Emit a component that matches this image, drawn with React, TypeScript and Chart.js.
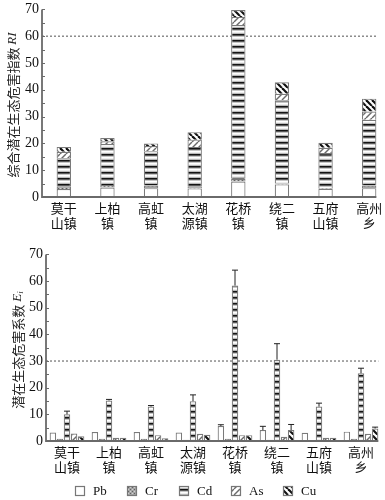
import React, { useEffect, useRef } from 'react';
import { Chart, registerables } from 'chart.js';

Chart.register(...registerables);

// ---------- data ----------
const townLabels: string[][] = [
  ['莫干', '山镇'], ['上柏', '镇'], ['高虹', '镇'], ['太湖', '源镇'],
  ['花桥', '镇'], ['绕二', '镇'], ['五府', '山镇'], ['高州', '乡'],
];
const elementNames = ['Pb', 'Cr', 'Cd', 'As', 'Cu'];

// Top: comprehensive potential ecological risk index RI (stacked by element)
const riPb = [3.0, 3.5, 3.3, 3.2, 5.8, 4.7, 3.1, 3.3];
const riCr = [1.0, 1.0, 1.0, 0.8, 1.0, 0.3, 0.3, 1.0];
const riCd = [10.5, 15.3, 12.8, 14.7, 57.4, 31.1, 13.0, 24.5];
const riAs = [2.4, 1.0, 1.9, 2.7, 3.0, 2.4, 2.0, 3.1];
const riCu = [1.8, 1.2, 1.0, 2.8, 2.6, 4.3, 1.8, 4.8];

// Bottom: single-element potential ecological risk coefficient Ei (mean and error)
const eiPb = [3.2, 3.4, 3.4, 3.2, 5.6, 4.1, 3.1, 3.5];
const eiPbErr = [0, 0, 0, 0, 0.5, 1.4, 0, 0];
const eiCr = [0.8, 0.8, 0.8, 0.5, 0.8, 0.5, 0.3, 0.8];
const eiCrErr = [0, 0, 0, 0, 0, 0, 0, 0];
const eiCd = [10.0, 15.2, 12.9, 14.9, 58.3, 30.5, 12.9, 25.4];
const eiCdErr = [1.2, 0.4, 0.4, 2.4, 5.8, 6.0, 1.3, 1.9];
const eiAs = [2.8, 1.2, 2.2, 2.7, 2.2, 1.6, 1.2, 2.7];
const eiAsErr = [0, 0, 0, 0, 0, 0, 0, 0];
const eiCu = [1.8, 1.2, 1.0, 2.3, 2.2, 4.1, 1.2, 4.7];
const eiCuErr = [0, 0, 0, 0, 0, 2.1, 0, 0.5];

const riRef = 60;
const eiRef = 30;
const yMin = 0;
const yMax = 70;
const yStep = 5;

// ---------- fills ----------
function tile(w: number, h: number, draw: (g: CanvasRenderingContext2D) => void) {
  const c = document.createElement('canvas');
  c.width = w;
  c.height = h;
  const g = c.getContext('2d')!;
  draw(g);
  return g.createPattern(c, 'repeat')!;
}

function makeFills(): Record<string, any> {
  const Pb = '#ffffff';
  const Cr = tile(4, 4, (g) => {
    g.fillStyle = '#a4a4a4'; g.fillRect(0, 0, 4, 4);
    g.fillStyle = '#626262'; g.fillRect(0, 0, 1, 1); g.fillRect(2, 2, 1, 1);
    g.fillStyle = '#d2d2d2'; g.fillRect(2, 0, 1, 1); g.fillRect(0, 2, 1, 1);
  });
  const Cd = tile(4, 6, (g) => {
    const rows = ['#141414', '#585858', '#c6c6c6', '#ffffff', '#eeeeee', '#b8b8b8'];
    rows.forEach((col, i) => { g.fillStyle = col; g.fillRect(0, i, 4, 1); });
  });
  const As = tile(6, 6, (g) => {
    g.fillStyle = '#ffffff'; g.fillRect(0, 0, 6, 6);
    g.strokeStyle = '#6a6a6a'; g.lineWidth = 1.4;
    for (const o of [-6, 0, 6]) { g.beginPath(); g.moveTo(o, 6); g.lineTo(o + 6, 0); g.stroke(); }
  });
  const Cu = tile(6, 6, (g) => {
    g.fillStyle = '#ffffff'; g.fillRect(0, 0, 6, 6);
    g.strokeStyle = '#111111'; g.lineWidth = 2.2;
    for (const o of [-6, 0, 6]) { g.beginPath(); g.moveTo(o, 0); g.lineTo(o + 6, 6); g.stroke(); }
  });
  return { Pb, Cr, Cd, As, Cu };
}

// ---------- plugins ----------
function lastBarRight(chart: any) {
  let r = chart.chartArea.left;
  chart.data.datasets.forEach((_ds: any, di: number) => {
    const meta = chart.getDatasetMeta(di);
    meta.data.forEach((el: any) => {
      const e = el.x + el.width / 2;
      if (e > r) r = e;
    });
  });
  return r;
}

const decorPlugin = {
  id: 'decor',
  beforeDatasetsDraw(chart: any, _a: any, opts: any) {
    const { ctx, chartArea, scales } = chart;
    const y = scales.y;
    const right = lastBarRight(chart);
    const yr = y.getPixelForValue(opts.ref);
    ctx.save();
    ctx.setLineDash([2, 2]);
    ctx.strokeStyle = '#7a7a7a';
    ctx.lineWidth = 1.3;
    ctx.beginPath();
    ctx.moveTo(chartArea.left, yr);
    ctx.lineTo(right, yr);
    ctx.stroke();
    ctx.restore();
  },
  afterDatasetsDraw(chart: any, _a: any, opts: any) {
    const { ctx, chartArea, scales } = chart;
    const y = scales.y;
    const right = lastBarRight(chart);
    ctx.save();
    // error bars
    ctx.strokeStyle = '#222';
    ctx.lineWidth = 1;
    chart.data.datasets.forEach((ds: any, di: number) => {
      if (!ds.errors) return;
      const meta = chart.getDatasetMeta(di);
      ds.errors.forEach((e: number, i: number) => {
        if (!e) return;
        const el: any = meta.data[i];
        const yt = y.getPixelForValue(ds.data[i] + e);
        ctx.beginPath();
        ctx.moveTo(el.x, el.y);
        ctx.lineTo(el.x, yt);
        ctx.moveTo(el.x - 3, yt);
        ctx.lineTo(el.x + 3, yt);
        ctx.stroke();
      });
    });
    // axes
    ctx.strokeStyle = '#6a6a6a';
    ctx.lineWidth = 1.8;
    ctx.beginPath();
    ctx.moveTo(chartArea.left, chartArea.top);
    ctx.lineTo(chartArea.left, chartArea.bottom);
    ctx.lineTo(right, chartArea.bottom);
    ctx.stroke();
    // inward ticks
    ctx.lineWidth = 1.2;
    ctx.beginPath();
    for (let v = yMin; v <= yMax; v += yStep) {
      const yy = Math.round(y.getPixelForValue(v)) + 0.5;
      ctx.moveTo(chartArea.left, yy);
      ctx.lineTo(chartArea.left + 3, yy);
    }
    ctx.stroke();
    ctx.restore();
  },
  afterDraw(chart: any, _a: any, opts: any) {
    const { ctx } = chart;
    // rotated y title built from parts
    const parts: any[] = opts.title || [];
    ctx.save();
    ctx.translate(opts.titleX, opts.titleY);
    ctx.rotate(-Math.PI / 2);
    ctx.textBaseline = 'middle';
    ctx.fillStyle = '#222';
    let total = 0;
    parts.forEach((p) => { ctx.font = p.font; total += ctx.measureText(p.text).width; });
    let cx = -total / 2;
    parts.forEach((p) => {
      ctx.font = p.font;
      ctx.fillText(p.text, cx, p.dy || 0);
      cx += ctx.measureText(p.text).width;
    });
    ctx.restore();
    // custom legend
    if (opts.legend) {
      const L = opts.legend;
      ctx.save();
      chart.data.datasets.forEach((ds: any, i: number) => {
        const bx = L.x + i * L.step;
        const by = L.y - 5;
        ctx.fillStyle = ds.backgroundColor;
        ctx.fillRect(bx, by, 10, 10);
        ctx.strokeStyle = '#777';
        ctx.lineWidth = 1.2;
        ctx.strokeRect(bx + 0.5, by + 0.5, 9, 9);
        ctx.fillStyle = '#111';
        ctx.font = '13px "Liberation Serif"';
        ctx.textBaseline = 'middle';
        ctx.fillText(ds.label, bx + 18, L.y + 1);
      });
      ctx.restore();
    }
  },
};

function baseScales(xHeight: number, yWidth: number, stacked: boolean) {
  return {
    x: {
      type: 'category',
      offset: true,
      stacked,
      grid: { display: false, drawTicks: false },
      border: { display: false },
      ticks: {
        font: { family: '"Noto Sans CJK SC"', size: 13, lineHeight: 1.15 },
        color: '#111',
        padding: 4,
        maxRotation: 0,
        autoSkip: false,
      },
      afterFit: (s: any) => { s.height = xHeight; },
    },
    y: {
      min: yMin,
      max: yMax,
      stacked,
      grid: { drawOnChartArea: false, drawTicks: false },
      border: { display: false },
      ticks: {
        stepSize: yStep,
        callback: (v: any) => (Number(v) % 10 === 0 ? String(v) : ''),
        font: { family: '"Liberation Serif"', size: 14 },
        color: '#111',
        padding: 3,
      },
      afterFit: (s: any) => { s.width = yWidth; },
    },
  };
}

export default function App() {
  const topRef = useRef<HTMLCanvasElement>(null);
  const botRef = useRef<HTMLCanvasElement>(null);

  useEffect(() => {
    const fills = makeFills();
    const riSeries = [riPb, riCr, riCd, riAs, riCu];
    const eiSeries = [eiPb, eiCr, eiCd, eiAs, eiCu];
    const eiErrors = [eiPbErr, eiCrErr, eiCdErr, eiAsErr, eiCuErr];

    const top = new Chart(topRef.current!, {
      type: 'bar',
      data: {
        labels: townLabels as any,
        datasets: elementNames.map((n, i) => ({
          label: n,
          data: riSeries[i],
          backgroundColor: fills[n],
          borderColor: '#7a7a7a',
          borderWidth: 1.2,
          barPercentage: 0.33,
          categoryPercentage: 1,
        })),
      },
      options: {
        responsive: false,
        animation: false,
        layout: { padding: { left: 0, right: 0, top: 0, bottom: 0 } },
        scales: baseScales(40, 42, true) as any,
        plugins: {
          legend: { display: false },
          tooltip: { enabled: false },
          decor: {
            ref: riRef,
            titleX: 13,
            titleY: 107,
            title: [
              { text: '综合潜在生态危害指数 ', font: '13px "Noto Sans CJK SC"' },
              { text: 'RI', font: 'italic 13px "Liberation Serif"' },
            ],
          },
        } as any,
      },
      plugins: [decorPlugin],
    });

    const bot = new Chart(botRef.current!, {
      type: 'bar',
      data: {
        labels: townLabels as any,
        datasets: elementNames.map((n, i) => ({
          label: n,
          data: eiSeries[i],
          errors: eiErrors[i],
          backgroundColor: fills[n],
          borderColor: '#7a7a7a',
          borderWidth: 1.2,
          barPercentage: 0.92,
          categoryPercentage: 0.84,
        })) as any,
      },
      options: {
        responsive: false,
        animation: false,
        layout: { padding: { left: 0, right: 3, top: 0, bottom: 0 } },
        scales: baseScales(59, 46, false) as any,
        plugins: {
          legend: { display: false },
          tooltip: { enabled: false },
          decor: {
            ref: eiRef,
            titleX: 18,
            titleY: 107,
            title: [
              { text: '潜在生态危害系数 ', font: '13px "Noto Sans CJK SC"' },
              { text: 'E', font: 'italic 13px "Liberation Serif"' },
              { text: 'i', font: 'italic 9px "Liberation Serif"', dy: 3 },
            ],
            legend: { x: 75, y: 248, step: 52 },
          },
        } as any,
      },
      plugins: [decorPlugin],
    });

    return () => {
      top.destroy();
      bot.destroy();
    };
  }, []);

  return (
    <div style={{ position: 'absolute', left: 0, top: 0, width: 385, height: 500, overflow: 'hidden', background: '#fff' }}>
      <canvas ref={topRef} width={391} height={239} style={{ position: 'absolute', left: 0, top: -2 }} />
      <canvas ref={botRef} width={385} height={257} style={{ position: 'absolute', left: 0, top: 243 }} />
    </div>
  );
}
